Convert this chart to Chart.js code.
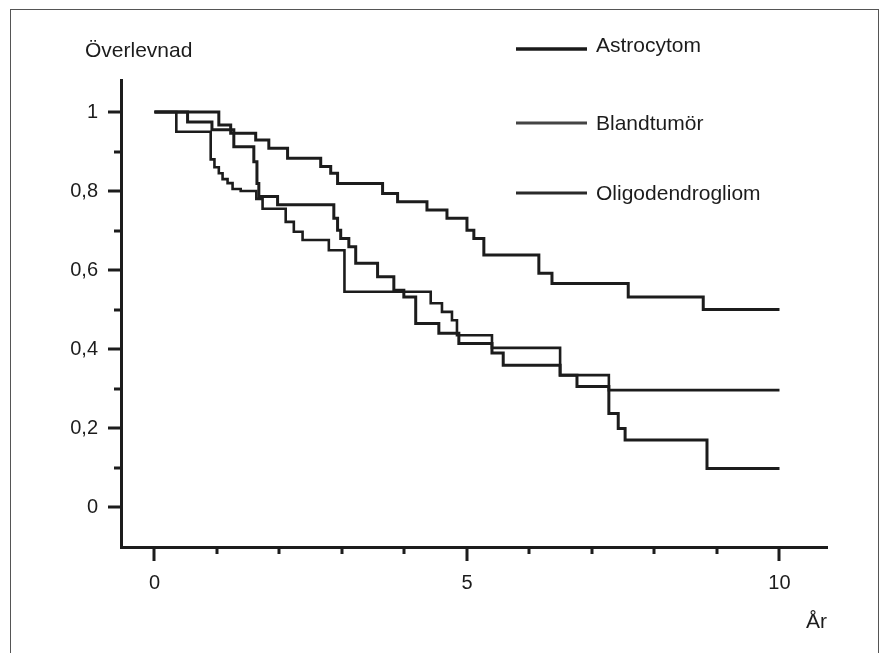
<!doctype html>
<html>
<head>
<meta charset="utf-8">
<title>Överlevnad</title>
<script src="https://cdn.jsdelivr.net/npm/chart.js@4.4.1/dist/chart.umd.min.js"></script>
<style>
  body { margin: 0; background: #fff; }
  #wrap { position: relative; width: 890px; height: 653px; overflow: hidden; }
  #frame { position: absolute; left: 10px; top: 9px; width: 867px; height: 700px;
           border: 1px solid #555; border-bottom: none; pointer-events: none; }
  canvas { position: absolute; left: 0; top: 0; }
</style>
</head>
<body>
<div id="wrap">
  <canvas id="km" width="890" height="653"></canvas>
  <div id="frame"></div>
</div>
<script>
  // Kaplan-Meier steps: time (år) where each level starts, and the level
  const astroTimes = [0, 0.53, 0.92, 1.27, 1.59, 1.64, 1.67, 1.97, 2.87, 2.93, 2.98, 3.11, 3.22, 3.57, 3.83, 3.99, 4.18, 4.55, 4.87, 5.40, 5.58, 6.49, 6.76, 7.27, 7.42, 7.53, 8.84, 10];
  const astroSurv  = [1, 0.975, 0.955, 0.912, 0.874, 0.819, 0.786, 0.765, 0.731, 0.701, 0.68, 0.659, 0.617, 0.583, 0.549, 0.532, 0.465, 0.44, 0.414, 0.39, 0.359, 0.334, 0.305, 0.237, 0.199, 0.17, 0.098, 0.098];

  const blandTimes = [0, 0.35, 0.90, 0.96, 1.03, 1.09, 1.17, 1.25, 1.38, 1.63, 1.73, 2.10, 2.23, 2.37, 2.79, 3.04, 4.42, 4.60, 4.76, 4.84, 5.40, 6.49, 7.27, 10];
  const blandSurv  = [1, 0.95, 0.88, 0.86, 0.845, 0.83, 0.82, 0.805, 0.80, 0.78, 0.755, 0.722, 0.697, 0.676, 0.65, 0.545, 0.516, 0.494, 0.473, 0.435, 0.403, 0.334, 0.296, 0.296];

  const oligoTimes = [0, 1.03, 1.22, 1.62, 1.83, 2.13, 2.66, 2.82, 2.93, 3.65, 3.89, 4.36, 4.68, 5.0, 5.11, 5.27, 6.15, 6.36, 7.58, 8.78, 10];
  const oligoSurv  = [1, 0.967, 0.946, 0.929, 0.908, 0.883, 0.862, 0.845, 0.819, 0.794, 0.773, 0.752, 0.731, 0.701, 0.68, 0.638, 0.592, 0.566, 0.532, 0.5, 0.5];

  const seriesNames = ['Astrocytom', 'Blandtumör', 'Oligodendrogliom'];

  const yTicks = [0, 0.1, 0.2, 0.3, 0.4, 0.5, 0.6, 0.7, 0.8, 0.9, 1];
  const yTickLabels = ['0', '', '0,2', '', '0,4', '', '0,6', '', '0,8', '', '1'];
  const xTicks = [0, 1, 2, 3, 4, 5, 6, 7, 8, 9, 10];
  const xTickLabels = ['0', '', '', '', '', '5', '', '', '', '', '10'];

  const FONT = '"Liberation Sans", Arial, sans-serif';
  const INK = '#1c1c1c';

  function toPoints(times, surv) {
    return times.map((t, i) => ({ x: t, y: surv[i] }));
  }

  // tick marks: long at labelled values, short in between
  const tickMarks = {
    id: 'tickMarks',
    afterDraw(chart) {
      const { ctx, chartArea, scales: { x, y } } = chart;
      ctx.save();
      ctx.strokeStyle = INK;
      ctx.lineWidth = 3;
      ctx.beginPath();
      yTicks.forEach((v, i) => {
        const py = Math.round(y.getPixelForValue(v));
        const len = yTickLabels[i] ? 13 : 7;
        ctx.moveTo(chartArea.left - len, py);
        ctx.lineTo(chartArea.left, py);
      });
      xTicks.forEach((v, i) => {
        const px = Math.round(x.getPixelForValue(v));
        const len = xTickLabels[i] ? 14 : 7;
        ctx.moveTo(px, chartArea.bottom);
        ctx.lineTo(px, chartArea.bottom + len);
      });
      ctx.stroke();
      ctx.restore();
    }
  };

  // axis captions and the legend, placed as in the scan
  const captions = {
    id: 'captions',
    afterDraw(chart) {
      const { ctx } = chart;
      ctx.save();
      ctx.fillStyle = INK;
      ctx.font = '21px ' + FONT;
      ctx.textBaseline = 'alphabetic';
      ctx.fillText('Överlevnad', 85, 57);
      ctx.fillText('År', 806, 628);

      const rows = [
        { y: 49, base: 52, w: 3.5, c: '#1a1a1a' },
        { y: 123, base: 130, w: 2.8, c: '#444' },
        { y: 193, base: 200, w: 3.2, c: '#2a2a2a' }
      ];
      rows.forEach((r, i) => {
        ctx.strokeStyle = r.c;
        ctx.lineWidth = r.w;
        ctx.beginPath();
        ctx.moveTo(516, r.y);
        ctx.lineTo(587, r.y);
        ctx.stroke();
        ctx.fillStyle = INK;
        ctx.fillText(chart.data.datasets[i].label, 596, r.base);
      });
      ctx.restore();
    }
  };

  const lineStyle = {
    borderColor: INK,
    borderWidth: 3,
    pointRadius: 0,
    stepped: 'before',
    fill: false
  };

  new Chart(document.getElementById('km'), {
    type: 'line',
    data: {
      datasets: [
        { label: seriesNames[0], data: toPoints(astroTimes, astroSurv), ...lineStyle },
        { label: seriesNames[1], data: toPoints(blandTimes, blandSurv), ...lineStyle, borderWidth: 2.6 },
        { label: seriesNames[2], data: toPoints(oligoTimes, oligoSurv), ...lineStyle }
      ]
    },
    options: {
      responsive: false,
      devicePixelRatio: 1,
      animation: false,
      layout: { padding: { left: 0, top: 80, right: 63, bottom: 0 } },
      plugins: { legend: { display: false }, tooltip: { enabled: false } },
      scales: {
        x: {
          type: 'linear',
          min: -0.535,
          max: 10.76,
          grid: { display: false, drawTicks: false },
          border: { display: true, color: INK, width: 3 },
          afterBuildTicks: (s) => { s.ticks = xTicks.map(v => ({ value: v })); },
          afterFit: (s) => { s.height = 106; },
          ticks: {
            autoSkip: false,
            maxRotation: 0,
            padding: 24,
            color: INK,
            font: { family: FONT, size: 20 },
            callback: (v, i) => xTickLabels[i]
          }
        },
        y: {
          type: 'linear',
          min: -0.101,
          max: 1.081,
          grid: { display: false, drawTicks: false },
          border: { display: true, color: INK, width: 3 },
          afterBuildTicks: (s) => { s.ticks = yTicks.map(v => ({ value: v })); },
          afterFit: (s) => { s.width = 121; },
          ticks: {
            autoSkip: false,
            padding: 23,
            color: INK,
            font: { family: FONT, size: 20 },
            callback: (v, i) => yTickLabels[i]
          }
        }
      }
    },
    plugins: [tickMarks, captions]
  });
</script>
</body>
</html>
